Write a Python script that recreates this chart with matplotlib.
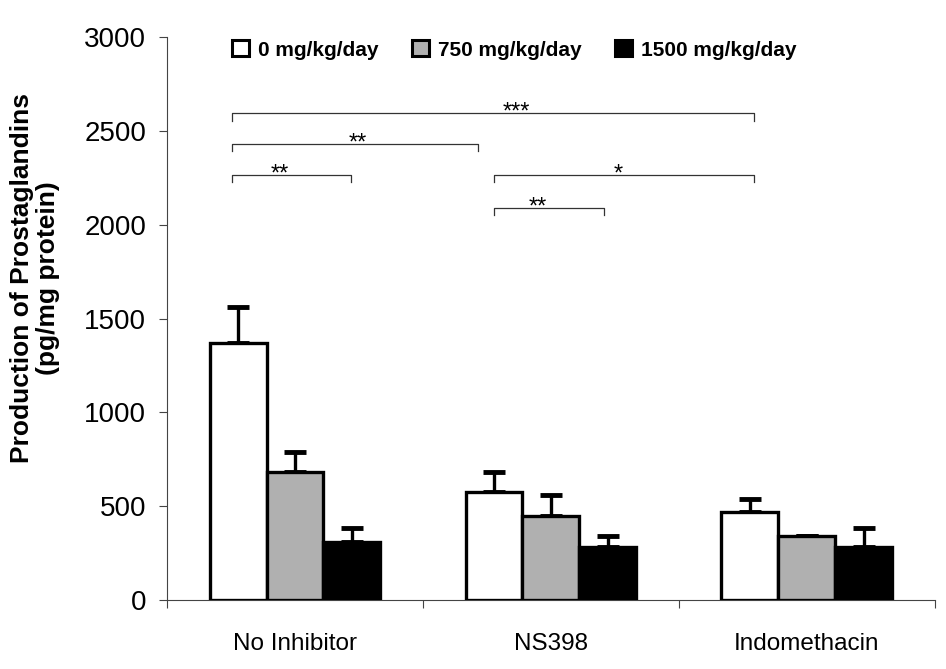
import numpy as np
import matplotlib.pyplot as plt

plt.rcParams['font.family'] = ['Liberation Sans', 'DejaVu Sans']

# data
groups = ['No Inhibitor', 'NS398', 'Indomethacin']
doses = ['0 mg/kg/day', '750 mg/kg/day', '1500 mg/kg/day']
means = [[1370, 577, 469],    # 0 mg/kg/day
         [684, 449, 341],     # 750 mg/kg/day
         [307, 284, 284]]     # 1500 mg/kg/day
errs = [[192, 107, 67],
        [106, 109, 0],
        [78, 57, 101]]
colors = ['white', '#b0b0b0', 'black']

# significance brackets: (x start, x end, height, star x, label)
brackets = [(-0.245, 1.795, 2593, 0.866, '***'),
            (-0.245, 0.715, 2428, 0.246, '**'),
            (-0.245, 0.220, 2264, -0.061, '**'),
            (0.777, 1.795, 2264, 1.262, '*'),
            (0.777, 1.207, 2087, 0.948, '**')]

fig = plt.figure(figsize=(9.46, 6.69), dpi=100)
ax = fig.add_axes([0.1765, 0.103, 0.8115, 0.8417])

x = np.arange(len(groups))
w = 0.222
for i in range(3):
    ax.bar(x + (i - 1) * w, means[i], w, color=colors[i], edgecolor='black',
           linewidth=2.4, zorder=3)
    ax.errorbar(x + (i - 1) * w, means[i], yerr=[np.zeros(3), errs[i]], fmt='none',
                ecolor='black', elinewidth=2.4, capsize=8, capthick=3.5, zorder=2)

for x0, x1, y, xs, lab in brackets:
    ax.plot([x0, x0, x1, x1], [y - 38, y, y, y - 38], color='#333333', lw=0.9)
    ax.text(xs, y - 30, lab, ha='center', va='baseline', fontsize=17)

ax.set_xlim(-0.5, 2.5)
ax.set_ylim(0, 3000)
ax.set_yticks(range(0, 3001, 500))
ax.tick_params(axis='y', labelsize=20, length=6, color='#444444', pad=9)
ax.set_xticks([-0.5, 0.5, 1.5, 2.5])
ax.set_xticklabels([])
ax.set_xticks(x, minor=True)
ax.set_xticklabels(groups, minor=True, fontsize=17.5)
ax.tick_params(axis='x', which='major', length=6, color='#444444')
ax.tick_params(axis='x', which='minor', length=0, pad=24)
for s in ['top', 'right']:
    ax.spines[s].set_visible(False)
for s in ['left', 'bottom']:
    ax.spines[s].set_color('#444444')

fig.text(0.037, 0.584, 'Production of Prostaglandins\n(pg/mg protein)', fontsize=19,
         fontweight='bold', rotation=90, ha='center', va='center', linespacing=1.1)

# legend drawn as a row across the top
handles = [plt.Rectangle((0, 0), 1, 1, facecolor=c, edgecolor='black', linewidth=2.2)
           for c in colors]
leg = ax.legend(handles, doses, loc='center left', bbox_to_anchor=(0.085, 0.977), ncol=3,
                frameon=False, prop={'weight': 'bold', 'size': 15},
                handlelength=0.8, handleheight=0.8, columnspacing=1.6, handletextpad=0.45,
                borderpad=0, borderaxespad=0)

fig.savefig('out.png', dpi=100)
